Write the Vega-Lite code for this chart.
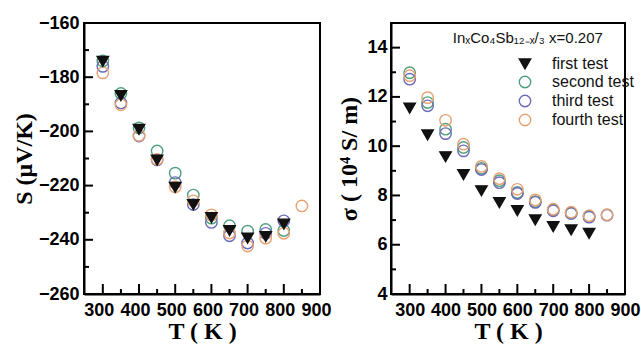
{
  "$schema": "https://vega.github.io/schema/vega-lite/v6.json",
  "padding": {"left": 11, "top": 13, "right": 0, "bottom": 0},
  "spacing": 71,
  "bounds": "flush",
  "background": "white",
  "config": {
    "view": {"stroke": "black", "strokeWidth": 2},
    "axis": {
      "grid": false,
      "ticks": false,
      "domainColor": "black",
      "domainWidth": 2,
      "labelFont": "Liberation Sans",
      "labelFontWeight": "bold",
      "labelFontSize": 18,
      "labelColor": "black",
      "labelOverlap": false,
      "labelFlush": false,
      "titleFont": "Liberation Serif",
      "titleFontWeight": "bold",
      "titleFontSize": 24,
      "titleColor": "black"
    }
  },
  "datasets": {
    "S": [
      {"T": 300, "test": "second test", "v": -174},
      {"T": 350, "test": "second test", "v": -186},
      {"T": 400, "test": "second test", "v": -198.7},
      {"T": 450, "test": "second test", "v": -207.2},
      {"T": 500, "test": "second test", "v": -215.4},
      {"T": 550, "test": "second test", "v": -223.5},
      {"T": 600, "test": "second test", "v": -232},
      {"T": 650, "test": "second test", "v": -234.8},
      {"T": 700, "test": "second test", "v": -236.8},
      {"T": 750, "test": "second test", "v": -236.2},
      {"T": 800, "test": "second test", "v": -236.6},
      {"T": 300, "test": "third test", "v": -176},
      {"T": 350, "test": "third test", "v": -189.5},
      {"T": 400, "test": "third test", "v": -201.7},
      {"T": 450, "test": "third test", "v": -210.5},
      {"T": 500, "test": "third test", "v": -218.9},
      {"T": 550, "test": "third test", "v": -227},
      {"T": 600, "test": "third test", "v": -233.6},
      {"T": 650, "test": "third test", "v": -238.5},
      {"T": 700, "test": "third test", "v": -241.2},
      {"T": 750, "test": "third test", "v": -237.6},
      {"T": 800, "test": "third test", "v": -233},
      {"T": 300, "test": "fourth test", "v": -178.4},
      {"T": 350, "test": "fourth test", "v": -190.2},
      {"T": 400, "test": "fourth test", "v": -201.5},
      {"T": 450, "test": "fourth test", "v": -210.3},
      {"T": 500, "test": "fourth test", "v": -220.5},
      {"T": 550, "test": "fourth test", "v": -225.6},
      {"T": 600, "test": "fourth test", "v": -230.8},
      {"T": 650, "test": "fourth test", "v": -237.5},
      {"T": 700, "test": "fourth test", "v": -242.3},
      {"T": 750, "test": "fourth test", "v": -239.4},
      {"T": 800, "test": "fourth test", "v": -237.6},
      {"T": 850, "test": "fourth test", "v": -227.5},
      {"T": 300, "test": "first test", "v": -174.2},
      {"T": 350, "test": "first test", "v": -186.8},
      {"T": 400, "test": "first test", "v": -199.3},
      {"T": 450, "test": "first test", "v": -210.6},
      {"T": 500, "test": "first test", "v": -220.7},
      {"T": 550, "test": "first test", "v": -227},
      {"T": 600, "test": "first test", "v": -231.8},
      {"T": 650, "test": "first test", "v": -236.6},
      {"T": 700, "test": "first test", "v": -239.4},
      {"T": 750, "test": "first test", "v": -238.8},
      {"T": 800, "test": "first test", "v": -234.2}
    ],
    "sigma": [
      {"T": 300, "test": "second test", "v": 12.98},
      {"T": 350, "test": "second test", "v": 11.77},
      {"T": 400, "test": "second test", "v": 10.69},
      {"T": 450, "test": "second test", "v": 9.95},
      {"T": 500, "test": "second test", "v": 9.1},
      {"T": 550, "test": "second test", "v": 8.6},
      {"T": 600, "test": "second test", "v": 8.12},
      {"T": 650, "test": "second test", "v": 7.75},
      {"T": 700, "test": "second test", "v": 7.4},
      {"T": 750, "test": "second test", "v": 7.28},
      {"T": 800, "test": "second test", "v": 7.15},
      {"T": 300, "test": "third test", "v": 12.72},
      {"T": 350, "test": "third test", "v": 11.64},
      {"T": 400, "test": "third test", "v": 10.51},
      {"T": 450, "test": "third test", "v": 9.81},
      {"T": 500, "test": "third test", "v": 9.05},
      {"T": 550, "test": "third test", "v": 8.52},
      {"T": 600, "test": "third test", "v": 8.08},
      {"T": 650, "test": "third test", "v": 7.72},
      {"T": 700, "test": "third test", "v": 7.38},
      {"T": 750, "test": "third test", "v": 7.27},
      {"T": 800, "test": "third test", "v": 7.12},
      {"T": 850, "test": "third test", "v": 7.2},
      {"T": 300, "test": "fourth test", "v": 12.86},
      {"T": 350, "test": "fourth test", "v": 11.97},
      {"T": 400, "test": "fourth test", "v": 11.05},
      {"T": 450, "test": "fourth test", "v": 10.08},
      {"T": 500, "test": "fourth test", "v": 9.18},
      {"T": 550, "test": "fourth test", "v": 8.68},
      {"T": 600, "test": "fourth test", "v": 8.25},
      {"T": 650, "test": "fourth test", "v": 7.82},
      {"T": 700, "test": "fourth test", "v": 7.44},
      {"T": 750, "test": "fourth test", "v": 7.32},
      {"T": 800, "test": "fourth test", "v": 7.18},
      {"T": 850, "test": "fourth test", "v": 7.22},
      {"T": 300, "test": "first test", "v": 11.54},
      {"T": 350, "test": "first test", "v": 10.46},
      {"T": 400, "test": "first test", "v": 9.57},
      {"T": 450, "test": "first test", "v": 8.84},
      {"T": 500, "test": "first test", "v": 8.19},
      {"T": 550, "test": "first test", "v": 7.71},
      {"T": 600, "test": "first test", "v": 7.38},
      {"T": 650, "test": "first test", "v": 7.01},
      {"T": 700, "test": "first test", "v": 6.73},
      {"T": 750, "test": "first test", "v": 6.6},
      {"T": 800, "test": "first test", "v": 6.46}
    ]
  },
  "resolve": {"legend": {"shape": "independent", "fill": "independent", "stroke": "independent"}},
  "hconcat": [
    {
      "width": 236,
      "height": 271,
      "resolve": {"axis": {"x": "independent", "y": "independent"}},
      "layer": [
        {
          "data": {"values": [{"t": 300}, {"t": 400}, {"t": 500}, {"t": 600}, {"t": 700}, {"t": 800}]},
          "mark": {"type": "point", "shape": "M0,0L0,-2", "size": 100, "filled": false, "stroke": "black", "strokeWidth": 2, "opacity": 1},
          "encoding": {
            "x": {"field": "t", "type": "quantitative", "axis": null, "scale": {"domain": [248, 900], "nice": false, "zero": false}},
            "y": {"datum": -260, "type": "quantitative", "axis": null, "scale": {"domain": [-260, -160], "nice": false, "zero": false}}
          }
        },
        {
          "data": {"values": [{"t": 350}, {"t": 450}, {"t": 550}, {"t": 650}, {"t": 750}, {"t": 850}]},
          "mark": {"type": "point", "shape": "M0,0L0,-2", "size": 25, "filled": false, "stroke": "black", "strokeWidth": 2, "opacity": 1},
          "encoding": {
            "x": {"field": "t", "type": "quantitative", "axis": null},
            "y": {"datum": -260, "type": "quantitative", "axis": null}
          }
        },
        {
          "data": {"values": [{"t": -240}, {"t": -220}, {"t": -200}, {"t": -180}]},
          "mark": {"type": "point", "shape": "M0,0L2,0", "size": 81, "filled": false, "stroke": "black", "strokeWidth": 2, "opacity": 1},
          "encoding": {
            "y": {"field": "t", "type": "quantitative", "axis": null},
            "x": {"datum": 248, "type": "quantitative", "axis": null}
          }
        },
        {
          "data": {"values": [{"t": -250}, {"t": -230}, {"t": -210}, {"t": -190}, {"t": -170}]},
          "mark": {"type": "point", "shape": "M0,0L2,0", "size": 25, "filled": false, "stroke": "black", "strokeWidth": 2, "opacity": 1},
          "encoding": {
            "y": {"field": "t", "type": "quantitative", "axis": null},
            "x": {"datum": 248, "type": "quantitative", "axis": null}
          }
        },
        {
          "data": {"name": "S"},
          "mark": {"type": "point", "size": 130, "strokeWidth": 1.4, "opacity": 1},
          "encoding": {
            "x": {
              "field": "T", "type": "quantitative",
              "scale": {"domain": [248, 900], "nice": false, "zero": false},
              "axis": {
                "orient": "bottom",
                "title": "T ( K )",
                "values": [300, 400, 500, 600, 700, 800, 900],
                "labelOffset": -4,
                "labelPadding": 7,
                "titlePadding": 0
              }
            },
            "y": {
              "field": "v", "type": "quantitative",
              "scale": {"domain": [-260, -160], "nice": false, "zero": false},
              "axis": {
                "orient": "left",
                "title": "S (μV/K)",
                "values": [-260, -240, -220, -200, -180, -160],
                "labelPadding": 5,
                "titlePadding": 2
              }
            },
            "shape": {"field": "test", "type": "nominal", "legend": null,
              "scale": {"domain": ["first test", "second test", "third test", "fourth test"], "range": ["triangle-down", "circle", "circle", "circle"]}},
            "fill": {"field": "test", "type": "nominal", "legend": null,
              "scale": {"domain": ["first test", "second test", "third test", "fourth test"], "range": ["#111111", "transparent", "transparent", "transparent"]}},
            "stroke": {"field": "test", "type": "nominal", "legend": null,
              "scale": {"domain": ["first test", "second test", "third test", "fourth test"], "range": ["#111111", "#4f9f7c", "#6a6ab8", "#e8a070"]}}
          }
        }
      ]
    },
    {
      "width": 234,
      "height": 271,
      "resolve": {"axis": {"x": "independent", "y": "independent"}},
      "layer": [
        {
          "data": {"values": [{"t": 300}, {"t": 400}, {"t": 500}, {"t": 600}, {"t": 700}, {"t": 800}]},
          "mark": {"type": "point", "shape": "M0,0L0,-2", "size": 100, "filled": false, "stroke": "black", "strokeWidth": 2, "opacity": 1},
          "encoding": {
            "x": {"field": "t", "type": "quantitative", "axis": null, "scale": {"domain": [248, 900], "nice": false, "zero": false}},
            "y": {"datum": 4, "type": "quantitative", "axis": null, "scale": {"domain": [4, 15], "nice": false, "zero": false}}
          }
        },
        {
          "data": {"values": [{"t": 350}, {"t": 450}, {"t": 550}, {"t": 650}, {"t": 750}, {"t": 850}]},
          "mark": {"type": "point", "shape": "M0,0L0,-2", "size": 25, "filled": false, "stroke": "black", "strokeWidth": 2, "opacity": 1},
          "encoding": {
            "x": {"field": "t", "type": "quantitative", "axis": null},
            "y": {"datum": 4, "type": "quantitative", "axis": null}
          }
        },
        {
          "data": {"values": [{"t": 6}, {"t": 8}, {"t": 10}, {"t": 12}, {"t": 14}]},
          "mark": {"type": "point", "shape": "M0,0L2,0", "size": 81, "filled": false, "stroke": "black", "strokeWidth": 2, "opacity": 1},
          "encoding": {
            "y": {"field": "t", "type": "quantitative", "axis": null},
            "x": {"datum": 248, "type": "quantitative", "axis": null}
          }
        },
        {
          "data": {"values": [{"t": 5}, {"t": 7}, {"t": 9}, {"t": 11}, {"t": 13}]},
          "mark": {"type": "point", "shape": "M0,0L2,0", "size": 25, "filled": false, "stroke": "black", "strokeWidth": 2, "opacity": 1},
          "encoding": {
            "y": {"field": "t", "type": "quantitative", "axis": null},
            "x": {"datum": 248, "type": "quantitative", "axis": null}
          }
        },
        {
          "data": {"name": "sigma"},
          "mark": {"type": "point", "size": 130, "strokeWidth": 1.4, "opacity": 1},
          "encoding": {
            "x": {
              "field": "T", "type": "quantitative",
              "scale": {"domain": [248, 900], "nice": false, "zero": false},
              "axis": {
                "orient": "bottom",
                "title": "T ( K )",
                "values": [300, 400, 500, 600, 700, 800, 900],
                "labelPadding": 7,
                "titlePadding": 0
              }
            },
            "y": {
              "field": "v", "type": "quantitative",
              "scale": {"domain": [4, 15], "nice": false, "zero": false},
              "axis": {
                "orient": "left",
                "title": "σ ( 10⁴ S/ m)",
                "values": [4, 6, 8, 10, 12, 14],
                "labelPadding": 4,
                "titlePadding": 5
              }
            },
            "shape": {"field": "test", "type": "nominal",
              "scale": {"domain": ["first test", "second test", "third test", "fourth test"], "range": ["triangle-down", "circle", "circle", "circle"]},
              "legend": {"orient": "none", "legendX": 126, "legendY": 33, "title": null, "padding": 0, "labelFont": "Liberation Sans", "labelFontSize": 16, "labelColor": "#111111", "labelOffset": 19, "rowPadding": 1, "symbolSize": 130, "symbolStrokeWidth": 1.4}},
            "fill": {"field": "test", "type": "nominal",
              "scale": {"domain": ["first test", "second test", "third test", "fourth test"], "range": ["#111111", "transparent", "transparent", "transparent"]},
              "legend": {"orient": "none", "legendX": 126, "legendY": 33, "title": null, "padding": 0, "labelFont": "Liberation Sans", "labelFontSize": 16, "labelColor": "#111111", "labelOffset": 19, "rowPadding": 1, "symbolSize": 130, "symbolStrokeWidth": 1.4}},
            "stroke": {"field": "test", "type": "nominal",
              "scale": {"domain": ["first test", "second test", "third test", "fourth test"], "range": ["#111111", "#4f9f7c", "#6a6ab8", "#e8a070"]},
              "legend": {"orient": "none", "legendX": 126, "legendY": 33, "title": null, "padding": 0, "labelFont": "Liberation Sans", "labelFontSize": 16, "labelColor": "#111111", "labelOffset": 19, "rowPadding": 1, "symbolSize": 130, "symbolStrokeWidth": 1.4}}
          }
        },
        {
          "data": {"values": [{"label": "InₓCo₄Sb₁₂₋ₓ/₃ x=0.207"}]},
          "mark": {"type": "text", "align": "left", "baseline": "middle", "font": "Liberation Sans", "fontSize": 15, "color": "#111111"},
          "encoding": {
            "x": {"datum": 420, "type": "quantitative", "axis": null},
            "y": {"datum": 14.39, "type": "quantitative", "axis": null},
            "text": {"field": "label"}
          }
        }
      ]
    }
  ]
}
